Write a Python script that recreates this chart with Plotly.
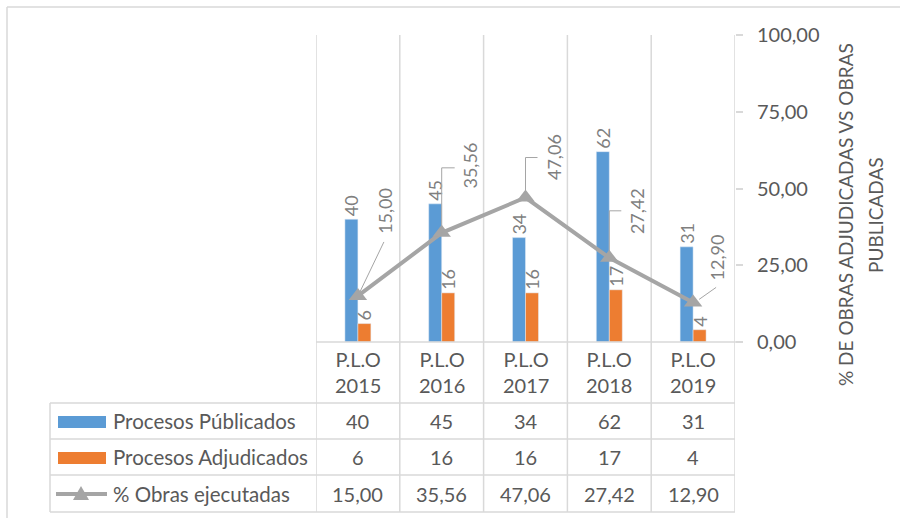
import plotly.graph_objects as go

# ---------------- data ----------------
categories = ["P.L.O 2015", "P.L.O 2016", "P.L.O 2017", "P.L.O 2018", "P.L.O 2019"]
publicados = [40, 45, 34, 62, 31]
adjudicados = [6, 16, 16, 17, 4]
pct_obras = [15.00, 35.56, 47.06, 27.42, 12.90]
series_names = ["Procesos Públicados", "Procesos Adjudicados", "% Obras ejecutadas"]
right_ticks = [0, 25, 50, 75, 100]
axis_title_lines = ["% DE OBRAS ADJUDICADAS VS OBRAS", "PUBLICADAS"]

# ---------------- style ----------------
BLUE = "#5B9BD5"
ORANGE = "#ED7D31"
GRAY = "#A5A5A5"
TXT = "#595959"
LBL = "#7F7F7F"
GRID = "#D9D9D9"
FONT = "Lato"

W, H = 900, 518
L, R, T, B = 316, 165, 35, 176
PW, PH = W - L - R, H - T - B


def X(px):
    return (px - L) / PW


def Y(py):
    return (H - B - py) / PH


def fmt(v):
    return f"{v:.2f}".replace(".", ",")


x_idx = list(range(len(categories)))

fig = go.Figure()
fig.add_trace(go.Bar(
    x=x_idx, y=publicados, name=series_names[0], marker_color=BLUE,
    text=[str(v) for v in publicados], textposition="outside", textangle=-90,
    constraintext="none", cliponaxis=False,
    textfont=dict(family=FONT, size=18, color=LBL), showlegend=False,
))
fig.add_trace(go.Bar(
    x=x_idx, y=adjudicados, name=series_names[1], marker_color=ORANGE,
    text=[str(v) for v in adjudicados], textposition="outside", textangle=-90,
    constraintext="none", cliponaxis=False,
    textfont=dict(family=FONT, size=18, color=LBL), showlegend=False,
))
fig.add_trace(go.Scatter(
    x=x_idx, y=pct_obras, name=series_names[2], yaxis="y2", mode="lines+markers",
    line=dict(color=GRAY, width=4),
    marker=dict(symbol="triangle-up", size=16, color=GRAY),
    cliponaxis=False, showlegend=False,
))

shapes = []
annotations = []

# outer chart border
shapes.append(dict(type="line", xref="paper", yref="paper", x0=X(7), x1=X(900), y0=Y(7), y1=Y(7),
                   line=dict(color=GRID, width=1.5)))
shapes.append(dict(type="line", xref="paper", yref="paper", x0=X(7), x1=X(7), y0=Y(7), y1=Y(518),
                   line=dict(color=GRID, width=1.5)))

# vertical gridlines / table column borders
for i in range(len(categories) + 1):
    shapes.append(dict(type="line", xref="x", yref="paper", x0=i - 0.5, x1=i - 0.5,
                       y0=Y(512), y1=1, line=dict(color=GRID, width=1.5), layer="below"))
# axis line
shapes.append(dict(type="line", xref="paper", yref="paper", x0=0, x1=X(741), y0=0, y1=0,
                   line=dict(color=GRID, width=1.5)))
# table horizontal lines
for py in [403, 439, 475, 512]:
    shapes.append(dict(type="line", xref="paper", yref="paper", x0=X(50), x1=1, y0=Y(py), y1=Y(py),
                       line=dict(color=GRID, width=1.5)))
shapes.append(dict(type="line", xref="paper", yref="paper", x0=X(50), x1=X(50), y0=Y(403), y1=Y(512),
                   line=dict(color=GRID, width=1.5)))

# legend keys
shapes.append(dict(type="rect", xref="paper", yref="paper", x0=X(58), x1=X(106), y0=Y(416), y1=Y(428),
                   fillcolor=BLUE, line=dict(width=0)))
shapes.append(dict(type="rect", xref="paper", yref="paper", x0=X(58), x1=X(106), y0=Y(452), y1=Y(464),
                   fillcolor=ORANGE, line=dict(width=0)))
shapes.append(dict(type="line", xref="paper", yref="paper", x0=X(56), x1=X(107), y0=Y(494), y1=Y(494),
                   line=dict(color=GRAY, width=4)))
shapes.append(dict(type="path", xref="paper", yref="paper",
                   path=f"M {X(73)},{Y(500)} L {X(89)},{Y(500)} L {X(81)},{Y(486)} Z",
                   fillcolor=GRAY, line=dict(width=0)))

# leader lines + labels for the % series (pixel offsets from each point)
leader_paths = [
    "M 2,4 L 26,54",
    "M 0,0 L 0,65 L 13,65",
    "M 0,0 L 0,40 L 12,40",
    "M 0,0 L 0,47 L 12,47",
    "M 6,3 L 23,15",
]
label_offsets = [(27, 85), (28, 67), (28, 40), (28, 47), (24, 45)]
for i, v in enumerate(pct_obras):
    shapes.append(dict(type="path", xref="x", yref="y2", xsizemode="pixel", ysizemode="pixel",
                       xanchor=i, yanchor=v, path=leader_paths[i],
                       line=dict(color=GRAY, width=1)))
    dx, dy = label_offsets[i]
    annotations.append(dict(x=i, y=v, xref="x", yref="y2", text=fmt(v), showarrow=False,
                            textangle=-90, xshift=dx, yshift=dy,
                            font=dict(family=FONT, size=18, color=LBL)))

# category labels (table header row)
for i, c in enumerate(categories):
    annotations.append(dict(x=i, y=Y(372), xref="x", yref="paper", text=c.replace(" ", "<br>"),
                            showarrow=False, font=dict(family=FONT, size=20, color=TXT),
                            yanchor="middle"))

# table rows
rows = [
    (series_names[0], [str(v) for v in publicados], 421),
    (series_names[1], [str(v) for v in adjudicados], 457),
    (series_names[2], [fmt(v) for v in pct_obras], 494),
]
for name, vals, py in rows:
    annotations.append(dict(x=X(111), y=Y(py), xref="paper", yref="paper", text=name, showarrow=False,
                            xanchor="left", yanchor="middle",
                            font=dict(family=FONT, size=20.5, color=TXT)))
    for i, t in enumerate(vals):
        annotations.append(dict(x=i, y=Y(py), xref="x", yref="paper", text=t, showarrow=False,
                                yanchor="middle", font=dict(family=FONT, size=20, color=TXT)))

# right axis title (two centred lines)
for line_text, px in zip(axis_title_lines, [845, 875]):
    annotations.append(dict(x=X(px), y=Y(215), xref="paper", yref="paper", text=line_text,
                            showarrow=False, textangle=-90, xanchor="center", yanchor="middle",
                            font=dict(family=FONT, size=19, color=TXT)))

fig.update_layout(
    width=W, height=H, autosize=False,
    margin=dict(l=L, r=R, t=T, b=B, pad=0),
    paper_bgcolor="white", plot_bgcolor="white",
    barmode="group", bargap=0.69, bargroupgap=0,
    separators=", ",
    xaxis=dict(range=[-0.5, len(categories) - 0.5], showticklabels=False, showgrid=False,
               zeroline=False, showline=False, ticks=""),
    yaxis=dict(range=[0, 100], visible=False),
    yaxis2=dict(range=[0, 100], overlaying="y", side="right", tickvals=right_ticks,
                tickformat=".2f", ticks="outside", ticklen=7, tickcolor=GRID, tickwidth=1.5,
                showgrid=False, zeroline=False, showline=False, ticklabelstandoff=10,
                tickfont=dict(family=FONT, size=20, color=TXT)),
    shapes=shapes,
    annotations=annotations,
)

fig.write_html("out.html", config={"displayModeBar": False},
               post_script="document.body.style.margin='0';")
